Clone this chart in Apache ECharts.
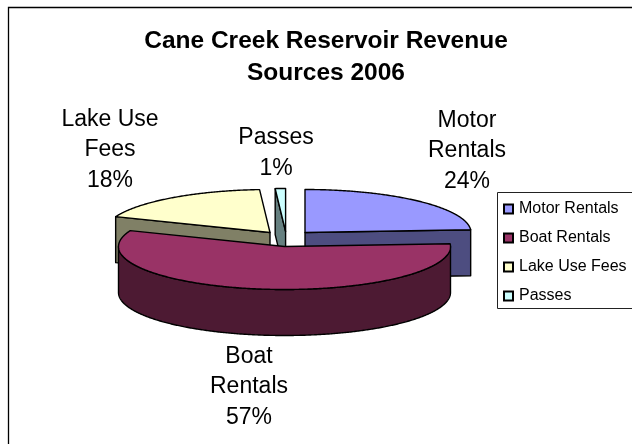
<!DOCTYPE html>
<html>
<head>
<meta charset="utf-8">
<style>html,body{margin:0;padding:0;background:#fff}#chart{width:632px;height:444px}</style>
<script src="https://cdn.jsdelivr.net/npm/echarts@6/dist/echarts.min.js"></script>
</head>
<body>
<div id="chart"></div>
<script>
// Revenue shares, in percent
const categories = ['Motor Rentals', 'Boat Rentals', 'Lake Use Fees', 'Passes'];
const shares = [24, 57, 18, 1];
const labelLines = ['Motor\nRentals', 'Boat\nRentals', 'Lake Use\nFees', 'Passes'];
const topColors = ['#9999FF', '#993366', '#FFFFCC', '#CCFFFF'];
const sideColors = ['#4D4D80', '#4D1A33', '#808066', '#668080'];

// Layout of the exploded tilted pie, one entry per slice
const sliceCentres = [[305, 232.5], [284.5, 246.5], [270, 232.5], [285.6, 231.5]];
const labelAnchors = [[467, 151], [249, 387], [110, 150], [276, 153]];
const radiusX = 166, radiusY = 43, depth = 46;
const labelLineHeight = 30.5;
// Draw order: back slices first, the large front slice last
const drawOrder = [0, 3, 2, 1];

const total = shares.reduce((a, b) => a + b, 0);

function sliceAngles(i) {
  const before = shares.slice(0, i).reduce((a, b) => a + b, 0);
  return [before / total * 360, (before + shares[i]) / total * 360];
}

function rimPoint(c, deg, drop) {
  const t = deg * Math.PI / 180;
  return [c[0] + radiusX * Math.sin(t), c[1] - radiusY * Math.cos(t) + (drop || 0)];
}

function arcPoints(c, from, to, drop) {
  const pts = [];
  const steps = Math.max(2, Math.ceil(Math.abs(to - from) * 2));
  for (let k = 0; k <= steps; k++) pts.push(rimPoint(c, from + (to - from) * k / steps, drop));
  return pts;
}

function solid(points, fill) {
  return {
    type: 'polygon',
    shape: { points },
    style: { fill, stroke: '#000', lineWidth: 1.4, lineJoin: 'round' },
    silent: true
  };
}

function cutFace(c, deg, fill) {
  const p = rimPoint(c, deg);
  return solid([c, p, [p[0], p[1] + depth], [c[0], c[1] + depth]], fill);
}

function renderSlice(i) {
  const c = sliceCentres[i];
  const [start, end] = sliceAngles(i);
  const children = [];
  // Cut faces turned towards the viewer
  if (Math.sin(start * Math.PI / 180) < 0) children.push(cutFace(c, start, sideColors[i]));
  if (Math.sin(end * Math.PI / 180) > 0) children.push(cutFace(c, end, sideColors[i]));
  // Outer wall on the near half of the rim
  const wallFrom = Math.max(start, 90), wallTo = Math.min(end, 270);
  if (wallTo > wallFrom) {
    const upper = arcPoints(c, wallFrom, wallTo, 0);
    const lower = arcPoints(c, wallTo, wallFrom, depth);
    children.push(solid(upper.concat(lower), sideColors[i]));
  }
  // Top face
  children.push(solid([c].concat(arcPoints(c, start, end, 0)), topColors[i]));
  // Data label: category and share
  children.push({
    type: 'text',
    silent: true,
    z2: 10,
    style: {
      x: labelAnchors[i][0],
      y: labelAnchors[i][1],
      text: labelLines[i] + '\n' + Math.round(shares[i] / total * 100) + '%',
      font: '23px "Liberation Sans", Arial, sans-serif',
      lineHeight: labelLineHeight,
      fill: '#000',
      align: 'center',
      verticalAlign: 'middle'
    }
  });
  return { type: 'group', children };
}

const series = drawOrder.map((i, order) => ({
  type: 'custom',
  name: categories[i],
  coordinateSystem: 'none',
  z: 2 + order,
  animation: false,
  silent: true,
  itemStyle: { color: topColors[i], borderColor: '#000', borderWidth: 1.2 },
  data: [shares[i]],
  renderItem: () => renderSlice(i)
}));

const chart = echarts.init(document.getElementById('chart'), null, { renderer: 'canvas' });
chart.setOption({
  animation: false,
  backgroundColor: '#fff',
  title: {
    text: 'Cane Creek Reservoir Revenue\nSources 2006',
    left: 321,
    top: 20,
    textAlign: 'center',
    textStyle: {
      fontFamily: '"Liberation Sans", Arial, sans-serif',
      fontWeight: 'bold',
      fontSize: 24.5,
      lineHeight: 32,
      color: '#000'
    }
  },
  legend: {
    data: categories,
    orient: 'vertical',
    left: 498,
    top: 196,
    padding: 5,
    icon: 'rect',
    itemWidth: 9,
    itemHeight: 9,
    itemGap: 13,
    selectedMode: false,
    textStyle: {
      fontFamily: '"Liberation Sans", Arial, sans-serif',
      fontSize: 16,
      color: '#000',
      padding: [0, 0, 0, 1]
    }
  },
  graphic: [
    {
      type: 'rect',
      silent: true,
      z: 0,
      shape: { x: 8.5, y: 7.5, width: 700, height: 600 },
      style: { fill: '#fff', stroke: '#000', lineWidth: 1.3 }
    },
    {
      type: 'rect',
      silent: true,
      z: 1,
      shape: { x: 497.5, y: 192.5, width: 200, height: 116 },
      style: { fill: '#fff', stroke: '#222', lineWidth: 1 }
    }
  ],
  series
});
</script>
</body>
</html>
